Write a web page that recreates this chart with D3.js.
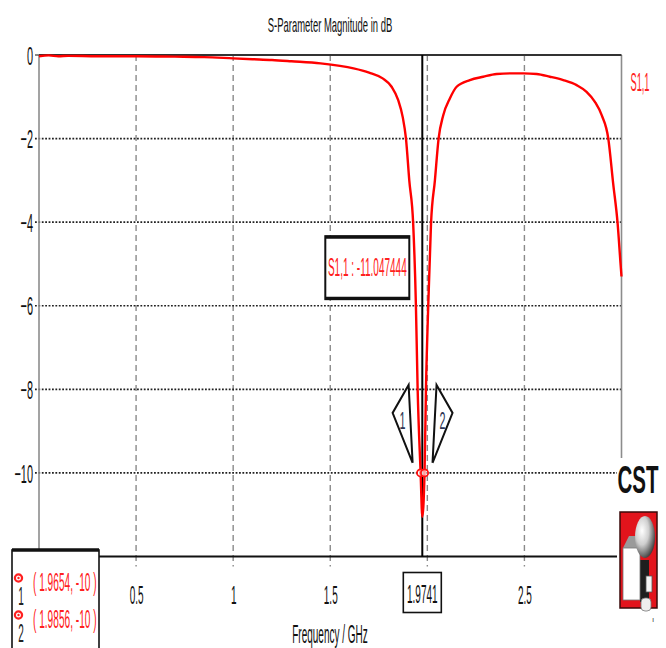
<!DOCTYPE html>
<html><head><meta charset="utf-8">
<script src="https://cdn.jsdelivr.net/npm/d3@7/dist/d3.min.js"></script>
<style>body{margin:0;background:#fff} svg{display:block}</style>
</head><body>
<svg id="c" width="666" height="648"></svg>
<script>
// ---- data ----
const freqGHz = [0, 0.05, 0.1, 0.15, 0.3, 0.5, 0.7, 0.85, 1.0, 1.1, 1.2, 1.3, 1.45, 1.55, 1.62, 1.70, 1.77, 1.816, 1.85, 1.873, 1.89, 1.907, 1.927, 1.941, 1.950, 1.9654, 1.9741, 1.9856, 1.993, 2.005, 2.019, 2.039, 2.058, 2.082, 2.116, 2.151, 2.219, 2.288, 2.357, 2.43, 2.494, 2.563, 2.631, 2.70, 2.769, 2.82, 2.863, 2.898, 2.932, 2.957, 2.98, 2.995, 3.0];
const s11dB   = [-0.03, -0.01, -0.03, -0.02, -0.03, -0.03, -0.04, -0.05, -0.08, -0.1, -0.12, -0.15, -0.2, -0.26, -0.32, -0.42, -0.56, -0.76, -1.08, -1.48, -2.0, -3.0, -4.03, -5.95, -7.98, -10, -11.047444, -10, -7.98, -5.95, -4.03, -3.0, -2.0, -1.44, -1.04, -0.76, -0.6, -0.52, -0.455, -0.44, -0.44, -0.455, -0.52, -0.6, -0.72, -0.88, -1.12, -1.44, -2.0, -3.07, -4.03, -4.99, -5.3];
const xTickValues = [0.5, 1, 1.5, 2, 2.5];
const xTickLabels = ["0.5", "1", "1.5", "", "2.5"];
const yTickValues = [0, -2, -4, -6, -8, -10];
const yGridValues = [-2, -4, -6, -8, -10];
const markerFreqs = [1.9654, 1.9856];
const markerLevels = [-10, -10];
const markerNames = ["1", "2"];
const cursorFreq = 1.9741;
const cursorValue = -11.047444;
const seriesName = "S1,1";
const titleText = "S-Parameter Magnitude in dB";
const xLabelText = "Frequency / GHz";

// ---- layout ----
const svg = d3.select("#c");
const FONT = "'Liberation Sans', Arial, sans-serif";
const FS = 25, SX = 0.4;
const x = d3.scaleLinear().domain([0, 3]).range([39, 621.5]);
const y = d3.scaleLinear().domain([-12, 0]).range([556.5, 55]);
const L = x(0), R = x(3), T = y(0), B = y(-12);

function sqText(g, tx, ty, str, opt) {
  opt = opt || {};
  return g.append("text")
    .attr("transform", `translate(${tx},${ty}) scale(${opt.sx || SX},1)`)
    .attr("text-anchor", opt.anchor || "middle")
    .attr("dy", "0.35em")
    .attr("font-family", FONT)
    .attr("font-size", opt.size || FS)
    .attr("font-weight", opt.weight || "normal")
    .attr("fill", opt.fill || "#111")
    .text(str);
}

// vertical dashed grid
svg.append("g").selectAll("line").data(xTickValues).join("line")
  .attr("x1", d => x(d)).attr("x2", d => x(d))
  .attr("y1", T).attr("y2", B + 10)
  .attr("stroke", "#8a8a8a").attr("stroke-width", 1.4)
  .attr("stroke-dasharray", "6,4");

// horizontal dotted grid
svg.append("g").selectAll("line").data(yGridValues).join("line")
  .attr("x1", L - 4).attr("x2", R)
  .attr("y1", d => y(d)).attr("y2", d => y(d))
  .attr("stroke", "#222").attr("stroke-width", 1.6)
  .attr("stroke-dasharray", "1.8,1.6");

// frame
svg.append("line").attr("x1", L).attr("x2", L).attr("y1", T).attr("y2", B)
  .attr("stroke", "#8c8c8c").attr("stroke-width", 1.6);
svg.append("line").attr("x1", R).attr("x2", R).attr("y1", T).attr("y2", B)
  .attr("stroke", "#8c8c8c").attr("stroke-width", 1.6);
svg.append("line").attr("x1", L).attr("x2", R).attr("y1", T).attr("y2", T)
  .attr("stroke", "#333").attr("stroke-width", 2);
svg.append("line").attr("x1", L).attr("x2", R).attr("y1", B).attr("y2", B)
  .attr("stroke", "#111").attr("stroke-width", 2);
svg.append("line").attr("x1", L - 4).attr("x2", L).attr("y1", T).attr("y2", T)
  .attr("stroke", "#555").attr("stroke-width", 1.4);

// cursor line
svg.append("line").attr("x1", x(cursorFreq)).attr("x2", x(cursorFreq))
  .attr("y1", T).attr("y2", B).attr("stroke", "#000").attr("stroke-width", 2);

// curve
const pts = freqGHz.map((f, i) => [f, s11dB[i]]);
svg.append("path").datum(pts)
  .attr("d", d3.line().x(d => x(d[0])).y(d => y(d[1])).curve(d3.curveMonotoneX))
  .attr("fill", "none").attr("stroke", "#ff0000").attr("stroke-width", 2.4)
  .attr("stroke-linejoin", "round");

// marker circles
svg.append("g").selectAll("circle").data(markerFreqs).join("circle")
  .attr("cx", d => x(d)).attr("cy", (d, i) => y(markerLevels[i]))
  .attr("r", 3.6).attr("fill", "#fff").attr("fill-opacity", 0.6)
  .attr("stroke", "#ff1010").attr("stroke-width", 1.8);

// marker kites
const mk = svg.append("g");
markerFreqs.forEach((f, i) => {
  const px = x(f), py = y(markerLevels[i]);
  const s = i === 0 ? -1 : 1;
  const bot = [px + s * 8, py - 10];
  const top = [px + s * 12, py - 88];
  const side = [px + s * 28, py - 60];
  mk.append("path")
    .attr("d", d3.line()([bot, side, top, bot]))
    .attr("fill", "#fff").attr("stroke", "#111").attr("stroke-width", 2)
    .attr("stroke-linejoin", "miter");
  sqText(mk, px + s * 18, py - 52, markerNames[i], {size: 24, fill: "#2c3654", sx: 0.45});
});

// cursor value box
const cb = svg.append("g");
const cxr = x(cursorFreq) - 13, cyTop = y(-4) + 14;
cb.append("rect").attr("x", cxr - 84).attr("y", cyTop).attr("width", 84).attr("height", 63)
  .attr("fill", "#fff").attr("stroke", "#111").attr("stroke-width", 2);
cb.append("line").attr("x1", cxr - 84).attr("x2", cxr).attr("y1", cyTop + 1).attr("y2", cyTop + 1)
  .attr("stroke", "#111").attr("stroke-width", 3);
cb.append("line").attr("x1", cxr - 84).attr("x2", cxr).attr("y1", cyTop + 62).attr("y2", cyTop + 62)
  .attr("stroke", "#111").attr("stroke-width", 3);
sqText(cb, cxr - 42, cyTop + 31, `${seriesName} : ${cursorValue}`, {fill: "#ff2020", size: 26, sx: 0.385});

// y axis labels
const yAx = svg.append("g").attr("transform", `translate(${L},0)`)
  .call(d3.axisLeft(y).tickValues(yTickValues).tickSize(0).tickFormat(d3.format("d")));
yAx.select(".domain").remove();
yAx.selectAll("text").attr("x", null).attr("dy", "0.35em")
  .attr("transform", `translate(-6,0) scale(0.42,1)`)
  .attr("font-family", FONT).attr("font-size", 26).attr("fill", "#111");

// x axis labels
const xAx = svg.append("g").attr("transform", `translate(0,${B})`)
  .call(d3.axisBottom(x).tickValues(xTickValues).tickSize(0)
    .tickFormat((d, i) => xTickLabels[i]));
xAx.select(".domain").remove();
xAx.selectAll("text").attr("y", null).attr("dy", "0.35em")
  .attr("transform", `translate(0,39) scale(${SX},1)`)
  .attr("font-family", FONT).attr("font-size", FS).attr("fill", "#111");

// cursor frequency box on x axis
const fb = svg.append("g");
fb.append("rect").attr("x", x(cursorFreq) - 19).attr("y", B + 16).attr("width", 38).attr("height", 40)
  .attr("fill", "#fff").attr("stroke", "#111").attr("stroke-width", 1.6);
sqText(fb, x(cursorFreq), B + 38, cursorFreq.toString(), {});

// axis title
sqText(svg, 330, 634, xLabelText, {fill: "#111", size: 25, sx: 0.4});

// legend (marker list)
const lg = svg.append("g");
lg.append("rect").attr("x", 12).attr("y", 550).attr("width", 87).attr("height", 110)
  .attr("fill", "#fff").attr("stroke", "#111").attr("stroke-width", 1.6);
lg.append("line").attr("x1", 12).attr("x2", 99).attr("y1", 550).attr("y2", 550)
  .attr("stroke", "#111").attr("stroke-width", 3.5);
markerFreqs.forEach((f, i) => {
  const ry = 580 + i * 37;
  lg.append("circle").attr("cx", 18.5).attr("cy", ry - 2).attr("r", 3.6)
    .attr("fill", "none").attr("stroke", "#ff2020").attr("stroke-width", 2.2);
  lg.append("circle").attr("cx", 18.5).attr("cy", ry - 2).attr("r", 1.2)
    .attr("fill", "#ff2020");
  sqText(lg, 21, ry + 16, markerNames[i], {fill: "#222", size: 25, sx: 0.4});
  sqText(lg, 33, ry + 2, `( ${f}, ${markerLevels[i]} )`, {fill: "#ff2020", anchor: "start", size: 25, sx: 0.405});
});

// series label on the right
sqText(svg, 640, 82, seriesName, {fill: "#ff2020", size: 25, sx: 0.37});

// title
sqText(svg, 330, 25, titleText, {fill: "#111", size: 21, sx: 0.45});

// CST logo
const logo = svg.append("g");
logo.append("rect").attr("x", 617).attr("y", 458).attr("width", 49).attr("height", 190).attr("fill", "#fff");
sqText(logo, 638, 480, "CST", {fill: "#111", size: 38, weight: "bold", sx: 0.54});
const defs = svg.append("defs");
const rg = defs.append("radialGradient").attr("id", "sph").attr("cx", "0.35").attr("cy", "0.35").attr("r", "0.75");
rg.append("stop").attr("offset", "0").attr("stop-color", "#ffffff");
rg.append("stop").attr("offset", "0.45").attr("stop-color", "#cfcfcf");
rg.append("stop").attr("offset", "1").attr("stop-color", "#2a2a2a");
logo.append("rect").attr("x", 620).attr("y", 512).attr("width", 37).attr("height", 96)
  .attr("fill", "#e2141c").attr("stroke", "#3a0a0a").attr("stroke-width", 1.5);
logo.append("rect").attr("x", 640).attr("y", 560).attr("width", 9).attr("height", 42).attr("fill", "#1e1e1e");
logo.append("path").attr("d", "M623,548 L629,536 L640,536 L640,548 Z").attr("fill", "#9a9a9a");
logo.append("rect").attr("x", 623).attr("y", 548).attr("width", 17).attr("height", 52)
  .attr("fill", "#fff").attr("stroke", "#777").attr("stroke-width", 0.8);
logo.append("ellipse").attr("cx", 645).attr("cy", 537).attr("rx", 10).attr("ry", 21).attr("fill", "url(#sph)");
logo.append("rect").attr("x", 646).attr("y", 576).attr("width", 6).attr("height", 16)
  .attr("fill", "#f4f4f4").attr("stroke", "#555").attr("stroke-width", 0.8);
logo.append("rect").attr("x", 641).attr("y", 598).attr("width", 10).attr("height", 13).attr("rx", 4)
  .attr("fill", "#eee").attr("stroke", "#777").attr("stroke-width", 0.8);
logo.append("text").attr("x", 652).attr("y", 622).attr("font-size", 8).attr("font-family", FONT)
  .attr("fill", "#444").text("ı");
</script>
</body></html>
